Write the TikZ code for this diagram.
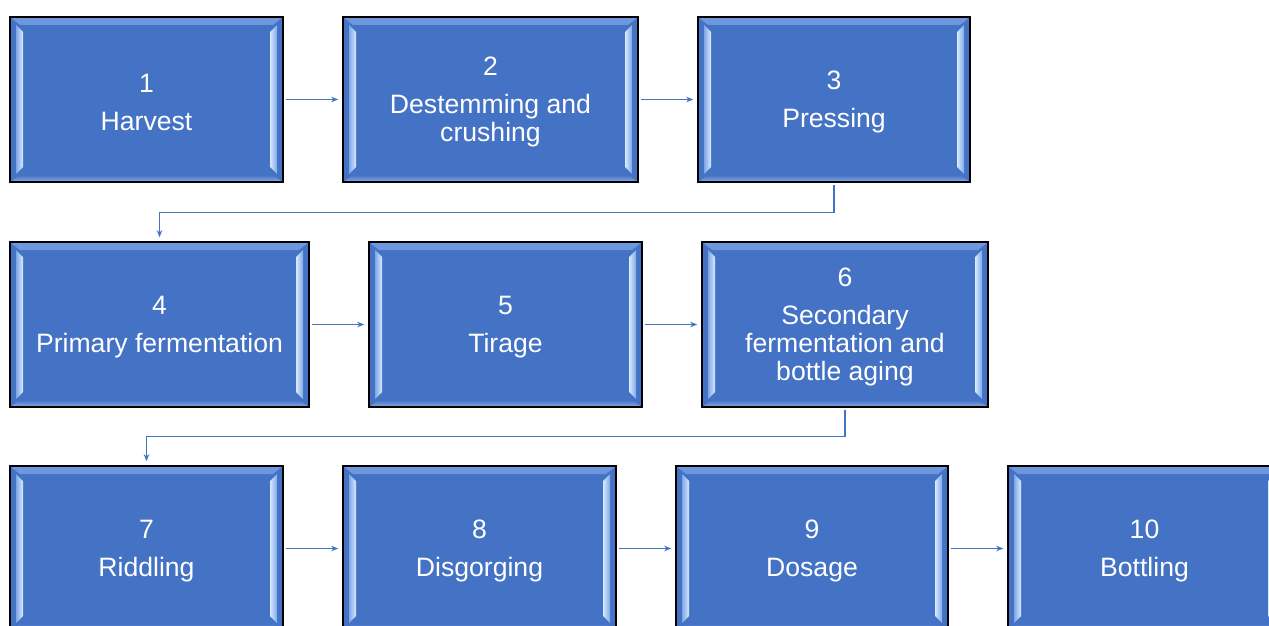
\documentclass[tikz,border=0pt]{standalone}
\usepackage{fontspec}
\setmainfont{Liberation Sans}
\usetikzlibrary{arrows.meta}
\definecolor{boxblue}{HTML}{4472C4}
\definecolor{bevtop}{HTML}{6F98DE}
\definecolor{bevbot}{HTML}{86ABE8}
\definecolor{bevmid}{HTML}{7EA7E6}
\definecolor{bevhi}{HTML}{D8EAFF}
\def\pb{path picture bounding box}
\newcommand\tstrut{\rule{0pt}{23.5pt}}
\tikzset{
  stagebox/.style={draw=black, line width=1.6pt, fill=boxblue,
    minimum height=165pt, inner sep=0pt, text=white, align=center,
    font=\fontsize{26.6}{28}\selectfont,
    path picture={
      \shade[top color=bevtop, bottom color=boxblue]
        ([xshift=0pt,yshift=0pt]\pb.north west) -- ([xshift=0pt,yshift=0pt]\pb.north east)
        -- ([xshift=-10pt,yshift=-8pt]\pb.north east) -- ([xshift=10pt,yshift=-8pt]\pb.north west) -- cycle;
      \shade[bottom color=bevbot, top color=boxblue]
        ([xshift=0pt,yshift=0pt]\pb.south west) -- ([xshift=0pt,yshift=0pt]\pb.south east)
        -- ([xshift=-10pt,yshift=7pt]\pb.south east) -- ([xshift=10pt,yshift=7pt]\pb.south west) -- cycle;
      \shade[left color=bevmid, right color=bevhi]
        ([xshift=6pt,yshift=-8pt]\pb.north west) -- ([xshift=13pt,yshift=-15pt]\pb.north west)
        -- ([xshift=13pt,yshift=15pt]\pb.south west) -- ([xshift=6pt,yshift=8pt]\pb.south west) -- cycle;
      \shade[right color=bevmid, left color=bevhi]
        ([xshift=-6pt,yshift=-8pt]\pb.north east) -- ([xshift=-13pt,yshift=-15pt]\pb.north east)
        -- ([xshift=-13pt,yshift=15pt]\pb.south east) -- ([xshift=-6pt,yshift=8pt]\pb.south east) -- cycle;
    }},
  conn/.style={draw=boxblue, line width=1.1pt, -{Stealth[length=7pt,width=5.5pt]},
    shorten >=4pt, shorten <=2pt}
}
\begin{document}
\begin{tikzpicture}[x=1pt,y=-1pt]
\useasboundingbox (0,0) rectangle (1269,626);
\fill[white] (0,0) rectangle (1269,626);
\clip (0,0) rectangle (1269,626);
% row 1
\node[stagebox, minimum width=273pt] (b1) at (146.5,99.5) {\tstrut 1\\[10pt]Harvest};
\node[stagebox, minimum width=295pt] (b2) at (490.5,99.5) {\tstrut 2\\[10pt]Destemming and\\crushing};
\node[stagebox, minimum width=272pt] (b3) at (834,99.5) {\tstrut 3\\[10pt]Pressing};
% row 2
\node[stagebox, minimum width=299pt] (b4) at (159.5,324.5) {\tstrut 4\\[10pt]Primary fermentation};
\node[stagebox, minimum width=273pt] (b5) at (505.5,324.5) {\tstrut 5\\[10pt]Tirage};
\node[stagebox, minimum width=286pt] (b6) at (845,324.5) {\tstrut 6\\[10pt]Secondary\\fermentation and\\bottle aging};
% row 3
\node[stagebox, minimum width=273pt] (b7) at (146.5,548.5) {\tstrut 7\\[10pt]Riddling};
\node[stagebox, minimum width=273pt] (b8) at (479.5,548.5) {\tstrut 8\\[10pt]Disgorging};
\node[stagebox, minimum width=272pt] (b9) at (812,548.5) {\tstrut 9\\[10pt]Dosage};
\node[stagebox, minimum width=273pt] (b10) at (1144.5,548.5) {\tstrut 10\\[10pt]Bottling};
% connectors
\draw[conn] (b1.east) -- (b2.west);
\draw[conn] (b2.east) -- (b3.west);
\draw[conn] (b3.south) -- ++(0,30) -| (b4.north);
\draw[conn] (b4.east) -- (b5.west);
\draw[conn] (b5.east) -- (b6.west);
\draw[conn] (b6.south) -- ++(0,29) -| (b7.north);
\draw[conn] (b7.east) -- (b8.west);
\draw[conn] (b8.east) -- (b9.west);
\draw[conn] (b9.east) -- (b10.west);
\end{tikzpicture}
\end{document}
